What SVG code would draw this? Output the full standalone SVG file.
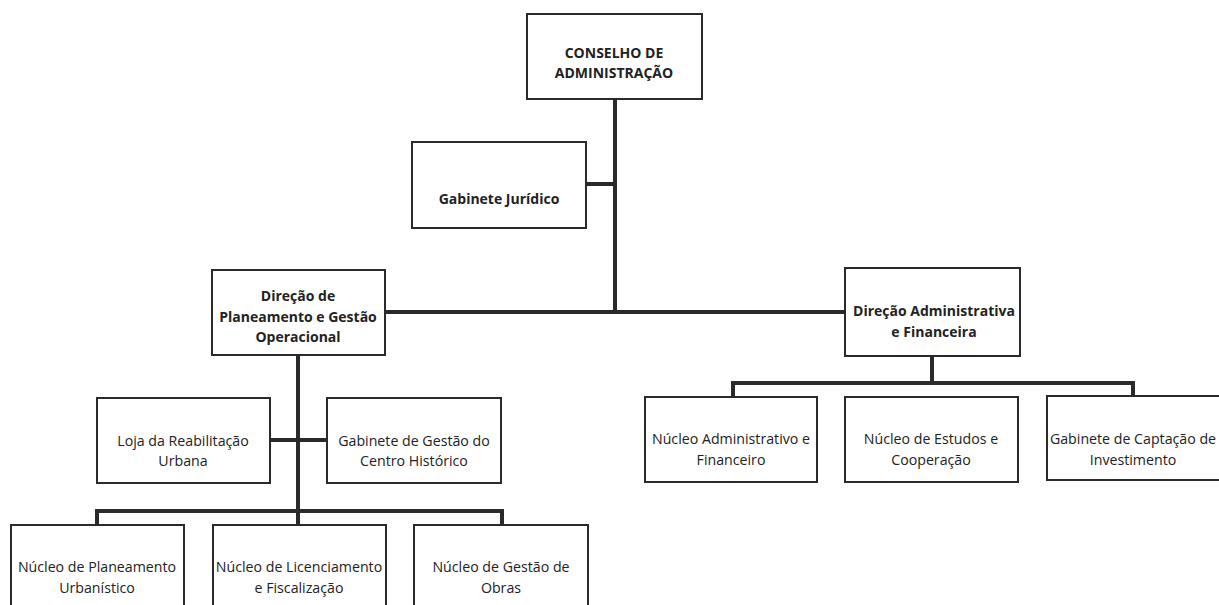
<svg xmlns="http://www.w3.org/2000/svg" width="1219" height="605" viewBox="0 0 1219 605">
<style>
.box{fill:#fff;stroke:#2a2a2a;stroke-width:2}
.con{fill:none;stroke:#2a2a2a;stroke-width:4;stroke-linejoin:miter}
text{font-family:"Open Sans","Liberation Sans",sans-serif;font-size:14.2px;fill:#222;text-anchor:middle}
.b{font-weight:bold;font-size:14px}
</style>
<rect width="1219" height="605" fill="#fff"/>
<g id="connectors">
<path class="con" d="M615,99 V312"/>
<path class="con" d="M586,184 H615"/>
<path class="con" d="M385,312 H845"/>
<path class="con" d="M298,355 V525"/>
<path class="con" d="M270,440 H327"/>
<path class="con" d="M97,525 V511 H502 V525"/>
<path class="con" d="M932,356 V383"/>
<path class="con" d="M733,397 V383 H1133 V397"/>
</g>
<g id="conselho"><rect class="box" x="527" y="14" width="175" height="85"/><text class="b" x="614" y="58">CONSELHO DE</text><text class="b" x="614" y="78">ADMINISTRAÇÃO</text></g>
<g id="gabinete-juridico"><rect class="box" x="412" y="142" width="174" height="86"/><text class="b" x="499" y="204">Gabinete Jurídico</text></g>
<g id="direcao-planeamento"><rect class="box" x="212" y="270" width="173" height="85"/><text class="b" x="298" y="301">Direção de</text><text class="b" x="298" y="322">Planeamento e Gestão</text><text class="b" x="298" y="342">Operacional</text></g>
<g id="direcao-administrativa"><rect class="box" x="845" y="268" width="175" height="88"/><text class="b" x="934" y="316">Direção Administrativa</text><text class="b" x="934" y="337">e Financeira</text></g>
<g id="loja"><rect class="box" x="97" y="398" width="173" height="85"/><text x="183" y="446">Loja da Reabilitação</text><text x="183" y="466">Urbana</text></g>
<g id="gabinete-gestao"><rect class="box" x="327" y="398" width="174" height="85"/><text x="414" y="446">Gabinete de Gestão do</text><text x="414" y="466">Centro Histórico</text></g>
<g id="nucleo-administrativo"><rect class="box" x="645" y="397" width="172" height="85"/><text x="731" y="444">Núcleo Administrativo e</text><text x="731" y="465">Financeiro</text></g>
<g id="nucleo-estudos"><rect class="box" x="845" y="397" width="173" height="85"/><text x="931" y="444">Núcleo de Estudos e</text><text x="931" y="465">Cooperação</text></g>
<g id="gabinete-captacao"><rect class="box" x="1047" y="396" width="180" height="84"/><text x="1133" y="444">Gabinete de Captação de</text><text x="1133" y="465">Investimento</text></g>
<g id="nucleo-planeamento"><rect class="box" x="11" y="525" width="173" height="90"/><text x="97" y="572">Núcleo de Planeamento</text><text x="97" y="593">Urbanístico</text></g>
<g id="nucleo-licenciamento"><rect class="box" x="213" y="525" width="173" height="90"/><text x="299" y="572">Núcleo de Licenciamento</text><text x="299" y="593">e Fiscalização</text></g>
<g id="nucleo-obras"><rect class="box" x="414" y="525" width="174" height="90"/><text x="501" y="572">Núcleo de Gestão de</text><text x="501" y="593">Obras</text></g>
</svg>
